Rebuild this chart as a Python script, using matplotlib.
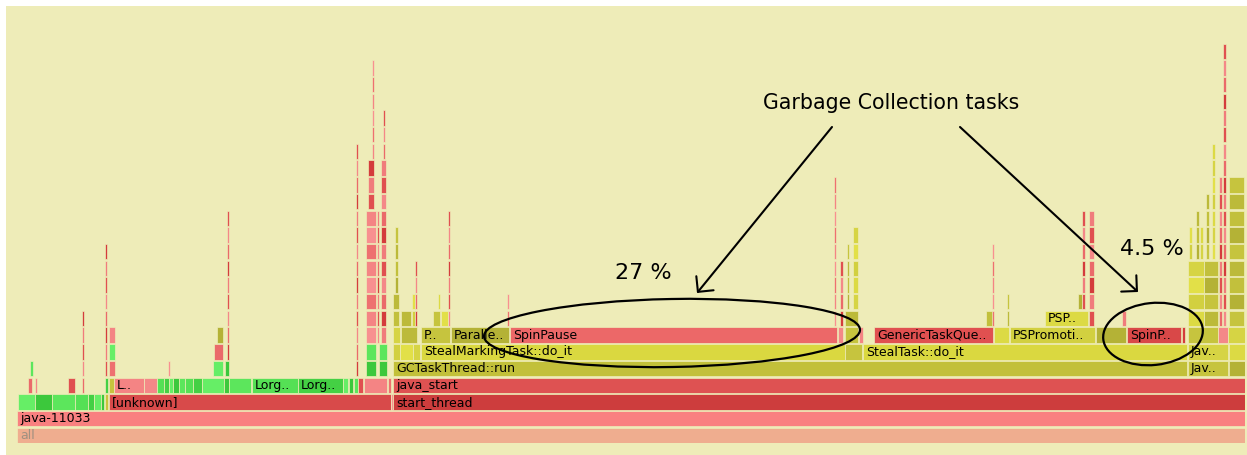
import matplotlib
matplotlib.use("Agg")
import matplotlib.pyplot as plt
from matplotlib.patches import Ellipse, Rectangle

# ---- data -----------------------------------------------------------------
# named / wide frames: name, depth, start (samples), width (samples), kind
frame_name = ['all', 'java-11033',
              '', '', '', '', '', '', '', '', '[unknown]', '', 'start_thread',
              '', '', '', '', '', 'L..', '',
              '', '', '', '', '', '', '', '', '', '',
              'Lorg..', 'Lorg..', '', '', '', '', '', '', 'java_start',
              '', '', '', '', '', 'GCTaskThread::run', 'Jav..', '',
              '', '', '', '', '', 'StealMarkingTask::do_it', '', 'StealTask::do_it', 'Jav..', '',
              '', '', '', '', 'P..', 'Paralle..', 'SpinPause', '', '', '', 'GenericTaskQue..', '',
              'PSPromoti..', '', 'SpinP..', '', '', '', '',
              '', '', '', '', 'PSP..', '']
frame_depth = [0, 1,
               2, 2, 2, 2, 2, 2, 2, 2, 2, 2, 2,
               3, 3, 3, 3, 3, 3, 3,
               3, 3, 3, 3, 3, 3, 3, 3, 3, 3,
               3, 3, 3, 3, 3, 3, 3, 3, 3,
               4, 4, 4, 4, 4, 4, 4, 4,
               5, 5, 5, 5, 5, 5, 5, 5, 5, 5,
               6, 6, 6, 6, 6, 6, 6, 6, 6, 6, 6, 6,
               6, 6, 6, 6, 6, 6, 6,
               7, 7, 7, 7, 7, 7]
frame_start = [0, 0,
               1, 18, 35, 58, 71, 77, 84, 88, 92, 374, 376,
               11, 18, 51, 88, 92, 97, 127,
               140, 147, 152, 156, 162, 168, 176, 185, 207, 212,
               235, 281, 326, 332, 337, 341, 347, 371, 376,
               13, 92, 151, 196, 208, 376, 1171, 1212,
               92, 197, 376, 383, 396, 404, 828, 846, 1171, 1212,
               92, 200, 376, 384, 404, 434, 493, 821, 828, 842, 857, 977,
               993, 1079, 1110, 1165, 1171, 1201, 1211,
               384, 416, 424, 969, 1028, 1105]
frame_width = [1228, 1228,
               17, 17, 23, 13, 6, 7, 3, 3, 282, 2, 852,
               4, 2, 7, 3, 5, 30, 13,
               7, 5, 4, 6, 6, 8, 9, 22, 5, 22,
               46, 45, 5, 4, 4, 5, 23, 3, 852,
               3, 6, 2, 10, 4, 794, 40, 16,
               6, 9, 7, 13, 7, 424, 17, 324, 40, 16,
               6, 6, 7, 16, 29, 58, 327, 5, 13, 4, 119, 15,
               85, 30, 54, 3, 30, 10, 17,
               10, 7, 7, 7, 43, 4]
frame_kind = ['all', 'java',
              'g', 'g', 'g', 'g', 'g', 'g', 'g', 'o', 'unk', 'p', 'st',
              'r', 'r', 'r', 'g', 'o', 'p', 'r',
              'g', 'g', 'g', 'g', 'g', 'g', 'g', 'g', 'g', 'g',
              'g', 'g', 'g', 'g', 'g', 'r', 'p', 'p', 'js',
              'g', 'p', 'p', 'g', 'g', 'gc', 'o', 'o',
              'g', 'r', 'y', 'y', 'y', 'smt', 'o', 'smt', 'y', 'y',
              'p', 'o', 'y', 'o', 'o', 'o', 'spin', 'r', 'o', 'p', 'gtq', 'y',
              'y', 'o', 'sp2', 'r', 'o', 'r', 'y',
              'o', 'o', 'y', 'o', 'y', 'r']

# thin towers of repeated frames: start, width, first depth, last depth, kind
stack_start = [65, 88, 210, 339, 349, 349, 351, 355, 360, 362, 364, 366,
               376, 378, 395, 398, 421, 431, 490,
               817, 823, 828, 830, 836,
               975, 990, 1061, 1065, 1072,
               1171, 1172, 1179, 1183, 1187, 1189, 1195, 1202, 1206, 1212]
stack_width = [2, 2, 2, 2, 10, 10, 6, 2, 2, 8, 5, 2,
               6, 3, 3, 2, 2, 2, 2,
               2, 3, 13, 2, 5,
               1.5, 1.5, 4, 3, 5,
               16, 3, 3, 3, 14, 3, 3, 3, 3, 15]
stack_base = [3, 4, 5, 4, 4, 6, 14, 17, 6, 4, 6, 17,
              7, 9, 7, 7, 8, 7, 7,
              7, 7, 7, 8, 8,
              7, 7, 8, 8, 7,
              7, 11, 11, 11, 7, 11, 11, 7, 7, 7]
stack_top = [7, 11, 13, 17, 5, 13, 16, 22, 13, 5, 16, 19,
             8, 12, 8, 10, 8, 13, 8,
             15, 10, 7, 11, 12,
             11, 8, 8, 13, 13,
             10, 12, 13, 12, 10, 14, 17, 15, 23, 15]
stack_kind = ['r', 'r', 'r', 'r', 'g', 'p', 'r', 'p', 'r', 'g', 'r', 'r',
              'o', 'o', 'y', 'r', 'y', 'r', 'p',
              'p', 'r', 'o', 'o', 'y',
              'p', 'o', 'o', 'r', 'r',
              'y', 'y', 'o', 'y', 'o', 'o', 'y', 'r', 'r', 'o']

# ---- style ----------------------------------------------------------------
bg = '#eeecb8'
palette = {
    'all': ['#efad8f'], 'java': ['#f98080'], 'unk': ['#d84a4a'], 'st': ['#cd3d3d'],
    'js': ['#de5252'], 'gc': ['#c2c03a'], 'smt': ['#dad840'], 'spin': ['#ec6868'],
    'gtq': ['#e05050'], 'sp2': ['#d94848'],
    'r': ['#e05050', '#f07c7c', '#d43c3c', '#ea6a6a', '#f48888'],
    'p': ['#f48484', '#ee7070', '#f89090'],
    'g': ['#55e055', '#44d044', '#66ee66', '#3cc83c', '#5ce65c'],
    'y': ['#dcda44', '#d2d040', '#e2e048', '#d6d444'],
    'o': ['#bcba3a', '#c6c43e', '#b4b236', '#c2c03c'],
}

def pick(kind, i):
    cols = palette[kind]
    return cols[i % len(cols)]

fig = plt.figure(figsize=(12.47, 4.55), dpi=100)
fig.patch.set_facecolor('white')
fig.patches.append(Rectangle((6 / 1247, 0), 1 - 6 / 1247, 1 - 6 / 455,
                             transform=fig.transFigure, facecolor=bg,
                             edgecolor='none', zorder=-1))

row = 16.7  # px per stack level
ax = fig.add_axes([17 / 1247, 12 / 455, 1228 / 1247, 24 * row / 455])
ax.set_xlim(0, 1228)
ax.set_ylim(0, 24)
ax.axis('off')

# expand the towers into single frames
ys, xs, ws, cs = [], [], [], []
for i in range(len(frame_name)):
    ys.append(frame_depth[i]); xs.append(frame_start[i]); ws.append(frame_width[i])
    cs.append(pick(frame_kind[i], i))
for j in range(len(stack_start)):
    for d in range(stack_base[j], stack_top[j] + 1):
        ys.append(d); xs.append(stack_start[j]); ws.append(stack_width[j])
        cs.append(pick(stack_kind[j], d + j))

ax.barh(ys, ws, left=xs, height=0.92, align='edge', color=cs,
        edgecolor=bg, linewidth=0.5)

for i, name in enumerate(frame_name):
    if name:
        ax.text(frame_start[i] + 3, frame_depth[i] + 0.45, name, va='center', ha='left',
                fontsize=9, color='#a09080' if name == 'all' else 'black', clip_on=True)

# ---- hand drawn annotations (pixel space) ---------------------------------
ov = fig.add_axes([0, 0, 1, 1], zorder=3)
ov.set_xlim(0, 1247)
ov.set_ylim(455, 0)
ov.axis('off')
ov.patch.set_alpha(0)

ov.add_patch(Ellipse((672, 333), 376, 68, angle=-1, fill=False, lw=1.6, color='black'))
ov.add_patch(Ellipse((1153, 334), 100, 62, angle=-6, fill=False, lw=1.6, color='black'))

arrow = dict(arrowstyle='->,head_length=0.4,head_width=0.4', lw=1.5, color='black',
             mutation_scale=20, shrinkA=0, shrinkB=0)
ov.annotate('', xy=(697, 293), xytext=(832, 127), arrowprops=arrow)
ov.annotate('', xy=(1138, 292), xytext=(960, 127), arrowprops=arrow)

ov.text(891, 103, 'Garbage Collection tasks', ha='center', va='center', fontsize=14.8)
ov.text(643, 273, '27 %', ha='center', va='center', fontsize=16)
ov.text(1152, 249, '4.5 %', ha='center', va='center', fontsize=16)

fig.savefig('out.png', dpi=100)
